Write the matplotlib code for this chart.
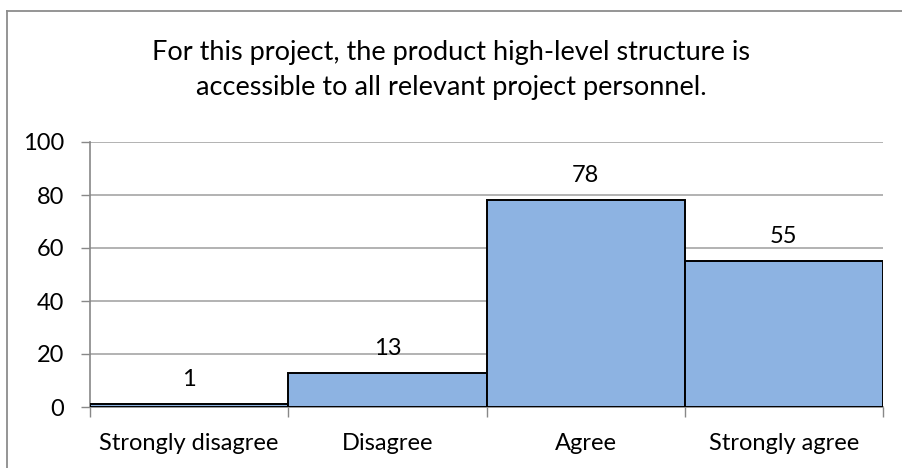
import matplotlib
matplotlib.use("Agg")
import matplotlib.pyplot as plt
from matplotlib.lines import Line2D

categories = ["Strongly disagree", "Disagree", "Agree", "Strongly agree"]
values = [1, 13, 78, 55]
yticks = [0, 20, 40, 60, 80, 100]
title = "For this project, the product high-level structure is\naccessible to all relevant project personnel."

plt.rcParams['font.family'] = ['Lato', 'DejaVu Sans']

fig = plt.figure(figsize=(9.02, 4.68), dpi=100)
ax = fig.add_axes([90/902, 1-407/468, (883-90)/902, (407-142)/468])

x = [i + 0.5 for i in range(len(categories))]
ax.bar(x, values, width=1.0, color="#8DB3E2", edgecolor="black", linewidth=1.4, zorder=3)

for xi, v in zip(x, values):
    ax.annotate(str(v), (xi, v), xytext=(0, 10), textcoords="offset points",
                ha="center", va="bottom", fontsize=17, color="black")

ax.set_xlim(0, len(categories))
ax.set_ylim(0, 100)
ax.set_yticks(yticks)
ax.set_yticklabels([str(t) for t in yticks], fontsize=17)
ax.set_xticks(range(len(categories) + 1))
ax.set_xticklabels([])
ax.set_xticks(x, minor=True)
ax.set_xticklabels(categories, minor=True, fontsize=17)
ax.tick_params(axis="x", which="minor", length=0, pad=19)
ax.tick_params(axis="x", which="major", length=7, color="#888888", width=1, direction="out")
ax.tick_params(axis="y", length=6.5, color="#888888", width=1, pad=12)

ax.yaxis.grid(True, color="#A6A6A6", linewidth=1.2, zorder=0)
ax.set_axisbelow(True)
for s in ["top", "right"]:
    ax.spines[s].set_visible(False)
for s in ["left", "bottom"]:
    ax.spines[s].set_color("#888888")
    ax.spines[s].set_linewidth(1.2)

fig.text(0.5, 1-70/468, title, ha="center", va="center", fontsize=19.5, linespacing=1.5)

# outer chart border (left and top visible)
fig.add_artist(Line2D([7/902, 7/902], [0, 1-11/468], transform=fig.transFigure, color="#8C8C8C", linewidth=1.3))
fig.add_artist(Line2D([7/902, 1], [1-11/468, 1-11/468], transform=fig.transFigure, color="#8C8C8C", linewidth=1.3))

fig.savefig("out.png", dpi=100)
